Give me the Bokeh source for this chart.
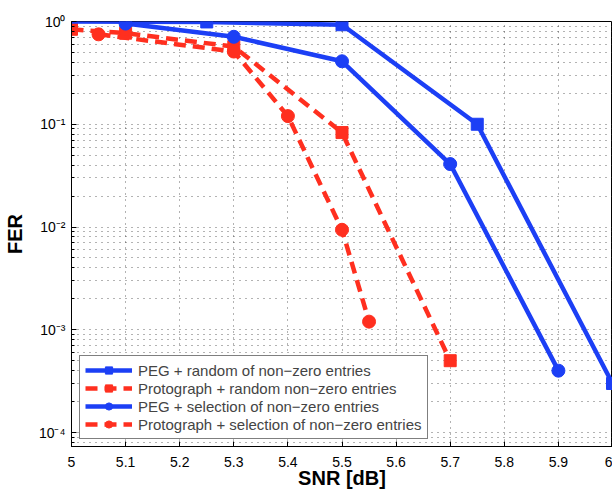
from bokeh.plotting import figure
from bokeh.models import (Range1d, FixedTicker, CustomJSTickFormatter,
                          Legend, LegendItem)
from bokeh.embed import file_html
from bokeh.resources import INLINE

# ---- data ----
snr_ticks = [5.0, 5.1, 5.2, 5.3, 5.4, 5.5, 5.6, 5.7, 5.8, 5.9, 6.0]
fer_ticks = [1e-4, 1e-3, 1e-2, 1e-1, 1.0]

peg_rand_snr = [5.0, 5.25, 5.5, 5.75, 6.0]
peg_rand_fer = [1.0, 0.99, 0.93, 0.10, 3.0e-4]

proto_rand_snr = [5.0, 5.1, 5.3, 5.5, 5.7]
proto_rand_fer = [0.84, 0.77, 0.57, 0.083, 5.0e-4]

peg_sel_snr = [5.1, 5.3, 5.5, 5.7, 5.9]
peg_sel_fer = [0.955, 0.71, 0.41, 0.041, 4.0e-4]

proto_sel_snr = [5.05, 5.3, 5.4, 5.5, 5.55]
proto_sel_fer = [0.75, 0.51, 0.12, 0.0094, 0.0012]

labels = ["PEG + random of non\u2212zero entries",
          "Protograph + random non\u2212zero entries",
          "PEG + selection of non\u2212zero entries",
          "Protograph + selection of non\u2212zero entries"]

BLUE = "#1c3ff5"
RED = "#ff2f1f"
FONT = "Liberation Sans"

minor = [m * t for t in [1e-5] + fer_ticks[:-1] for m in range(2, 10)]

p = figure(frame_width=541, frame_height=425, x_range=Range1d(5, 6), y_range=Range1d(10 ** -4.136, 1),
           y_axis_type="log", output_backend="svg", toolbar_location=None,
           min_border_left=63, min_border_right=0, min_border_top=21, min_border_bottom=30,
           background_fill_color="white", border_fill_color="white")
p.outline_line_color = "black"
p.outline_line_width = 1

# axes
p.xaxis.ticker = FixedTicker(ticks=snr_ticks)
p.xaxis.formatter = CustomJSTickFormatter(code="return Number(tick.toFixed(1)).toString();")
p.yaxis.ticker = FixedTicker(ticks=fer_ticks, minor_ticks=minor)
p.yaxis.formatter = CustomJSTickFormatter(code="""
const e = Math.round(Math.log10(tick));
const m = {'-':'\u207b','0':'\u2070','1':'\u00b9','2':'\u00b2','3':'\u00b3','4':'\u2074'};
return '10' + String(e).split('').map(c => m[c]).join('');
""")
for ax in (p.xaxis[0], p.yaxis[0]):
    ax.major_tick_in = 5
    ax.major_tick_out = 0
    ax.minor_tick_in = 3
    ax.minor_tick_out = 0
    ax.major_label_text_font = FONT
    ax.major_label_text_font_size = "14px"
    ax.major_label_text_color = "black"
    ax.axis_label_text_font = FONT
    ax.axis_label_text_font_size = "20px"
    ax.axis_label_text_font_style = "bold"
    ax.axis_label_text_color = "black"
    ax.axis_line_color = "black"
p.xaxis.axis_label = "SNR [dB]"
p.yaxis.axis_label = "FER"
p.xaxis.major_label_standoff = 10
p.xaxis.axis_label_standoff = -3
p.yaxis.major_label_standoff = 6
p.yaxis.axis_label_standoff = 10

# grid
for g in (p.xgrid[0], p.ygrid[0]):
    g.grid_line_color = "#333333"
    g.grid_line_dash = "1 5"
    g.grid_line_alpha = 0.75
p.ygrid.minor_grid_line_color = "#333333"
p.ygrid.minor_grid_line_dash = "1 5"
p.ygrid.minor_grid_line_alpha = 0.75

# series (red first, blue on top)
l_pr = p.line(proto_rand_snr, proto_rand_fer, line_color=RED, line_width=4.5, line_dash="12 7")
s_pr = p.scatter(proto_rand_snr, proto_rand_fer, marker="square", size=12, color=RED)
l_ps = p.line(proto_sel_snr, proto_sel_fer, line_color=RED, line_width=4.5, line_dash="12 7")
s_ps = p.scatter(proto_sel_snr, proto_sel_fer, marker="circle", size=13, color=RED)
l_gr = p.line(peg_rand_snr, peg_rand_fer, line_color=BLUE, line_width=4.5)
s_gr = p.scatter(peg_rand_snr[1:], peg_rand_fer[1:], marker="square", size=12, color=BLUE)
l_gs = p.line(peg_sel_snr, peg_sel_fer, line_color=BLUE, line_width=4.5)
s_gs = p.scatter(peg_sel_snr, peg_sel_fer, marker="circle", size=13, color=BLUE)

legend = Legend(items=[
    LegendItem(label=labels[0], renderers=[l_gr, s_gr]),
    LegendItem(label=labels[1], renderers=[l_pr, s_pr]),
    LegendItem(label=labels[2], renderers=[l_gs, s_gs]),
    LegendItem(label=labels[3], renderers=[l_ps, s_ps]),
], location=(8, 7), label_text_font=FONT, label_text_font_size="15px",
    glyph_width=47, glyph_height=18, label_height=18, spacing=0, padding=5, margin=0,
    label_standoff=6, border_line_color="black", border_line_width=1,
    background_fill_color="white", background_fill_alpha=1)
p.add_layout(legend)

open("out.html", "w").write(file_html(p, INLINE))
